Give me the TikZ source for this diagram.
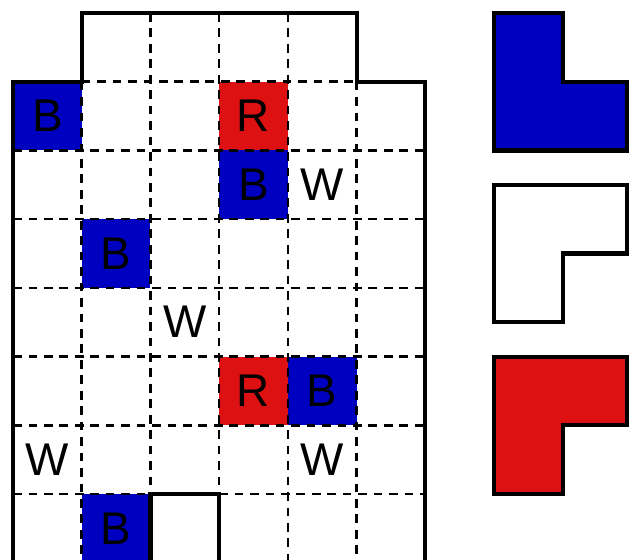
\documentclass[tikz,border=0pt]{standalone}
\usepackage{fontspec}
\newfontfamily\cellfont{Liberation Sans}
\definecolor{tileblue}{RGB}{0,0,192}
\definecolor{tilered}{RGB}{221,17,17}

\begin{document}
\begin{tikzpicture}
    \tikzset{cell/.style = {shape=rectangle,draw=none,minimum size=1cm,inner sep=0pt,font=\cellfont\fontsize{19}{19}\selectfont}}
    \tikzset{bcell/.style = {cell,fill=tileblue}}
    \tikzset{rcell/.style = {cell,fill=tilered}}
    \tikzset{wcell/.style = {cell}}
    \tikzset{gridline/.style = {line width=1.1pt,dash pattern=on 3.6pt off 2.8pt}}
    \tikzset{border/.style = {line width=1.7pt}}

    \clip (-0.19,0.19) rectangle (8.98,-7.96);

    % cells

    \node[bcell] (b1) at (0.5,-1.5) {B};
    \node[rcell] (r1) at (3.5,-1.5) {R};
    \node[bcell] (b2) at (3.5,-2.5) {B};
    \node[wcell] (w1) at (4.5,-2.5) {W};
    \node[bcell] (b3) at (1.5,-3.5) {B};
    \node[wcell] (w2) at (2.5,-4.5) {W};
    \node[rcell] (r2) at (3.5,-5.5) {R};
    \node[bcell] (b4) at (4.5,-5.5) {B};
    \node[wcell] (w3) at (0.5,-6.5) {W};
    \node[wcell] (w4) at (4.5,-6.5) {W};
    \node[bcell] (b5) at (1.5,-7.5) {B};

    % grid
    \draw[gridline] (1,-1) -- (1,-8);
    \draw[gridline] (2,0) -- (2,-7);
    \draw[gridline] (3,0) -- (3,-7);
    \draw[gridline] (4,0) -- (4,-8);
    \draw[gridline] (5,-1) -- (5,-8);
    \draw[gridline] (1,-1) -- (5,-1);
    \draw[gridline] (0,-2) -- (6,-2);
    \draw[gridline] (0,-3) -- (6,-3);
    \draw[gridline] (0,-4) -- (6,-4);
    \draw[gridline] (0,-5) -- (6,-5);
    \draw[gridline] (0,-6) -- (6,-6);
    \draw[gridline] (0,-7) -- (2,-7);
    \draw[gridline] (3,-7) -- (6,-7);

    % board outline
    \draw[border] (0,-8) -- (0,-1) -- (1,-1) -- (1,0) -- (5,0) -- (5,-1) -- (6,-1) -- (6,-8);
    \draw[border] (2,-8) -- (2,-7) -- (3,-7) -- (3,-8);

    % pieces
    \draw[border,fill=tileblue] (7,0) -- (8,0) -- (8,-1) -- (8.93,-1) -- (8.93,-2) -- (7,-2) -- cycle;
    \draw[border,fill=white] (7,-2.5) -- (8.93,-2.5) -- (8.93,-3.5) -- (8,-3.5) -- (8,-4.5) -- (7,-4.5) -- cycle;
    \draw[border,fill=tilered] (7,-5) -- (8.93,-5) -- (8.93,-6) -- (8,-6) -- (8,-7) -- (7,-7) -- cycle;
\end{tikzpicture}
\end{document}
